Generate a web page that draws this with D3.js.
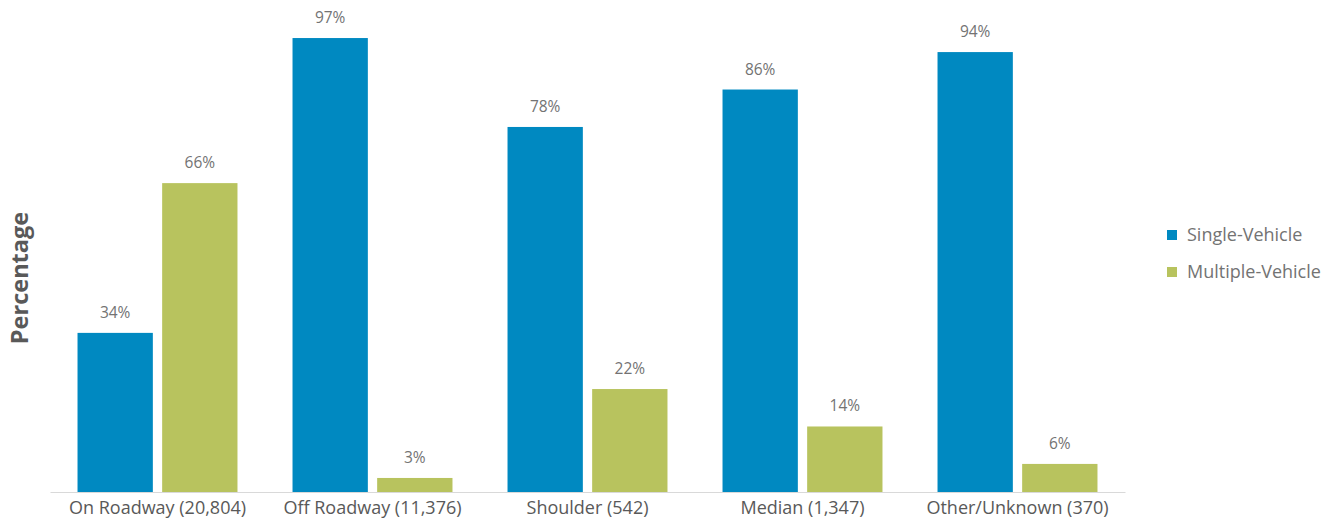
<!DOCTYPE html>
<html lang="en">
<head>
<meta charset="UTF-8"/>
<title>Crash location by vehicle count</title>
<script src="https://d3js.org/d3.v7.min.js"></script>
<style>
    body { margin: 0; background: #fff; }
    text { font-family: "Open Sans", sans-serif; }
    .axis path { stroke: #d9d9d9; }
    .axis line { display: none; }
    .axis text { font-size: 18px; fill: #595959; }
    .val { font-size: 15.5px; fill: #737373; text-anchor: middle; }
    .legend text { font-size: 18px; fill: #737373; }
</style>
</head>
<body>
<svg width="1333" height="521"></svg>
<script>
const categories = ["On Roadway (20,804)", "Off Roadway (11,376)", "Shoulder (542)", "Median (1,347)", "Other/Unknown (370)"];
const series = ["Single-Vehicle", "Multiple-Vehicle"];
const singleVehicle = [34, 97, 78, 86, 94];
const multipleVehicle = [66, 3, 22, 14, 6];
const colors = ["#0089c1", "#b8c35e"];

const svg = d3.select("svg");
const baseY = 492;

const x0 = d3.scaleBand().domain(categories).range([50, 1125]).paddingInner(0.256).paddingOuter(0.128);
const x1 = d3.scaleBand().domain(series).range([0, x0.bandwidth()]).paddingInner(0.11);
const y = d3.scaleLinear().domain([0, 100]).range([baseY, 24]);

const rows = categories.map((c, i) => ({cat: c, vals: [singleVehicle[i], multipleVehicle[i]]}));

const groups = svg.selectAll("g.grp").data(rows).enter().append("g")
    .attr("class", "grp")
    .attr("transform", d => "translate(" + x0(d.cat) + ",0)");

groups.selectAll("rect").data(d => d.vals.map((v, j) => ({s: series[j], v: v, j: j})))
    .enter().append("rect")
    .attr("x", d => x1(d.s))
    .attr("width", x1.bandwidth())
    .attr("y", d => y(d.v))
    .attr("height", d => baseY - y(d.v))
    .attr("fill", d => colors[d.j]);

groups.selectAll("text.val").data(d => d.vals.map((v, j) => ({s: series[j], v: v})))
    .enter().append("text")
    .attr("class", "val")
    .attr("x", d => x1(d.s) + x1.bandwidth() / 2)
    .attr("y", d => y(d.v) - 15)
    .text(d => d.v + "%");

svg.append("g").attr("class", "axis")
    .attr("transform", "translate(0," + baseY + ")")
    .call(d3.axisBottom(x0).tickSize(0).tickPadding(6).tickSizeOuter(0))
    .call(g => g.selectAll("text").attr("dy", "0.9em"));

svg.append("text")
    .attr("transform", "translate(28,278) rotate(-90)")
    .attr("text-anchor", "middle")
    .style("font-size", "23.5px")
    .style("font-weight", "bold")
    .style("fill", "#595959")
    .text("Percentage");

const legend = svg.append("g").attr("class", "legend");
series.forEach((s, i) => {
    const ly = 235 + i * 37;
    legend.append("rect").attr("x", 1167).attr("y", ly - 5).attr("width", 10).attr("height", 10).attr("fill", colors[i]);
    legend.append("text").attr("x", 1187).attr("y", ly).attr("dy", "0.35em").text(s);
});
</script>
</body>
</html>
